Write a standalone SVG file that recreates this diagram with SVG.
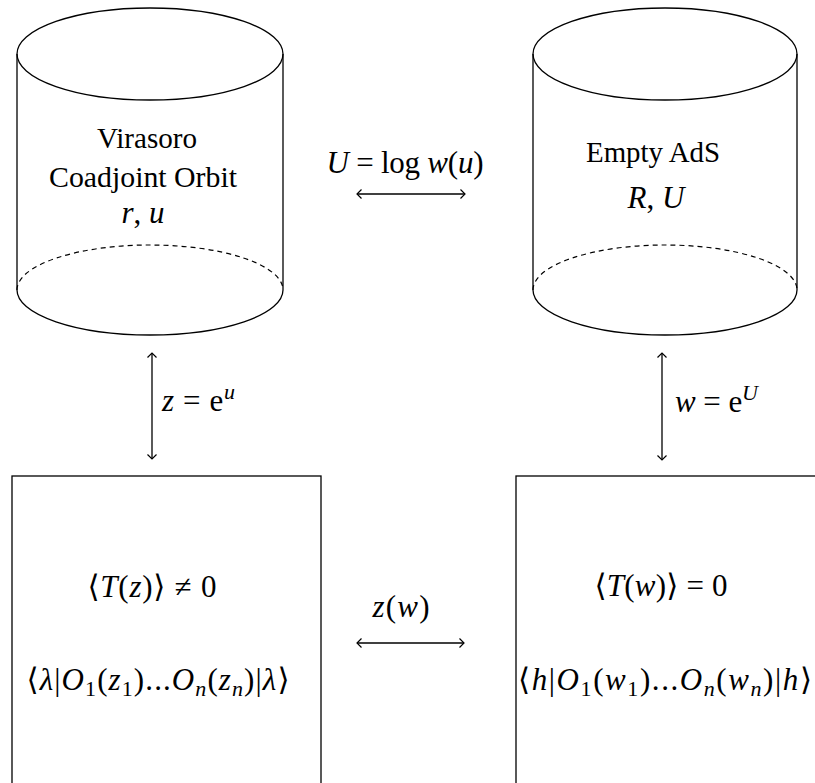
<svg xmlns="http://www.w3.org/2000/svg" width="815" height="783" viewBox="0 0 815 783">
<style>
.ln{fill:none;stroke:#000;stroke-width:1.3}
.dash{fill:none;stroke:#000;stroke-width:1.2;stroke-dasharray:5 4}
.t{font-family:"Liberation Serif","DejaVu Serif",serif;font-size:30px;fill:#000}
.m{font-family:"Liberation Serif","DejaVu Serif",serif;font-size:31px;fill:#000}
.i{font-style:italic}
.s{font-size:22px}
</style>
<defs>
<marker id="ah" viewBox="-6 -6 8 12" markerWidth="8" markerHeight="12" refX="0" refY="0" orient="auto-start-reverse" markerUnits="userSpaceOnUse">
<path d="M-4.5,-4.5 Q-1,-1 0,0 Q-1,1 -4.5,4.5" fill="none" stroke="#000" stroke-width="1.2"/>
</marker>
</defs>
<rect width="815" height="783" fill="#fff"/>
<g id="cyl-virasoro">
<ellipse class="ln" cx="150" cy="54" rx="133" ry="46"/>
<line class="ln" x1="17" y1="54" x2="17" y2="290"/>
<line class="ln" x1="283" y1="54" x2="283" y2="290"/>
<path class="ln" d="M17,290 A133,45 0 0 0 283,290"/>
<path class="dash" d="M17,290 A133,45 0 0 1 283,290"/>
<text class="t" x="147" y="148" text-anchor="middle" textLength="100" lengthAdjust="spacingAndGlyphs">Virasoro</text>
<text class="t" x="143" y="187" text-anchor="middle" textLength="188" lengthAdjust="spacingAndGlyphs">Coadjoint Orbit</text>
<text class="m" x="143" y="223" text-anchor="middle"><tspan class="i">r</tspan>, <tspan class="i">u</tspan></text>
</g>
<g id="cyl-ads">
<ellipse class="ln" cx="665" cy="54" rx="132" ry="46"/>
<line class="ln" x1="533" y1="54" x2="533" y2="290"/>
<line class="ln" x1="797" y1="54" x2="797" y2="290"/>
<path class="ln" d="M533,290 A132,45 0 0 0 797,290"/>
<path class="dash" d="M533,290 A132,45 0 0 1 797,290"/>
<text class="t" x="653" y="162" text-anchor="middle" textLength="134" lengthAdjust="spacingAndGlyphs">Empty AdS</text>
<text class="m" x="656" y="208" text-anchor="middle"><tspan class="i">R</tspan>, <tspan class="i">U</tspan></text>
</g>
<g id="box-z">
<rect class="ln" x="12" y="476" width="309" height="320"/>
<text class="m" x="152" y="597" text-anchor="middle" textLength="129">⟨<tspan class="i">T</tspan>(<tspan class="i">z</tspan>)⟩ ≠ 0</text>
<text class="m" x="158" y="690" text-anchor="middle" textLength="263">⟨<tspan class="i">λ</tspan>|<tspan class="i">O</tspan><tspan class="s" dy="6">1</tspan><tspan dy="-6">(</tspan><tspan class="i">z</tspan><tspan class="s" dy="6">1</tspan><tspan dy="-6">)...</tspan><tspan class="i">O</tspan><tspan class="s i" dy="6">n</tspan><tspan dy="-6">(</tspan><tspan class="i">z</tspan><tspan class="s i" dy="6">n</tspan><tspan dy="-6">)|</tspan><tspan class="i">λ</tspan>⟩</text>
</g>
<g id="box-w">
<rect class="ln" x="516" y="476" width="320" height="320"/>
<text class="m" x="661" y="596" text-anchor="middle" textLength="133">⟨<tspan class="i">T</tspan>(<tspan class="i">w</tspan>)⟩ = 0</text>
<text class="m" x="665" y="690" text-anchor="middle" textLength="294">⟨<tspan class="i">h</tspan>|<tspan class="i">O</tspan><tspan class="s" dy="6">1</tspan><tspan dy="-6">(</tspan><tspan class="i">w</tspan><tspan class="s" dy="6">1</tspan><tspan dy="-6">)...</tspan><tspan class="i">O</tspan><tspan class="s i" dy="6">n</tspan><tspan dy="-6">(</tspan><tspan class="i">w</tspan><tspan class="s i" dy="6">n</tspan><tspan dy="-6">)|</tspan><tspan class="i">h</tspan>⟩</text>
</g>
<g id="connectors">
<line class="ln" x1="357" y1="194" x2="465" y2="194" marker-start="url(#ah)" marker-end="url(#ah)"/>
<text class="m" x="405" y="173" text-anchor="middle" textLength="157"><tspan class="i">U</tspan> = log <tspan class="i">w</tspan>(<tspan class="i">u</tspan>)</text>
<line class="ln" x1="152" y1="353" x2="152" y2="459" marker-start="url(#ah)" marker-end="url(#ah)"/>
<text class="m" x="162" y="411" textLength="73"><tspan class="i">z</tspan> = e<tspan class="s i" dy="-12">u</tspan></text>
<line class="ln" x1="662" y1="353" x2="662" y2="460" marker-start="url(#ah)" marker-end="url(#ah)"/>
<text class="m" x="675" y="412" textLength="83"><tspan class="i">w</tspan> = e<tspan class="s i" dy="-12">U</tspan></text>
<line class="ln" x1="357" y1="643" x2="464" y2="643" marker-start="url(#ah)" marker-end="url(#ah)"/>
<text class="m" x="401" y="617" text-anchor="middle" textLength="57"><tspan class="i">z</tspan>(<tspan class="i">w</tspan>)</text>
</g>
</svg>
